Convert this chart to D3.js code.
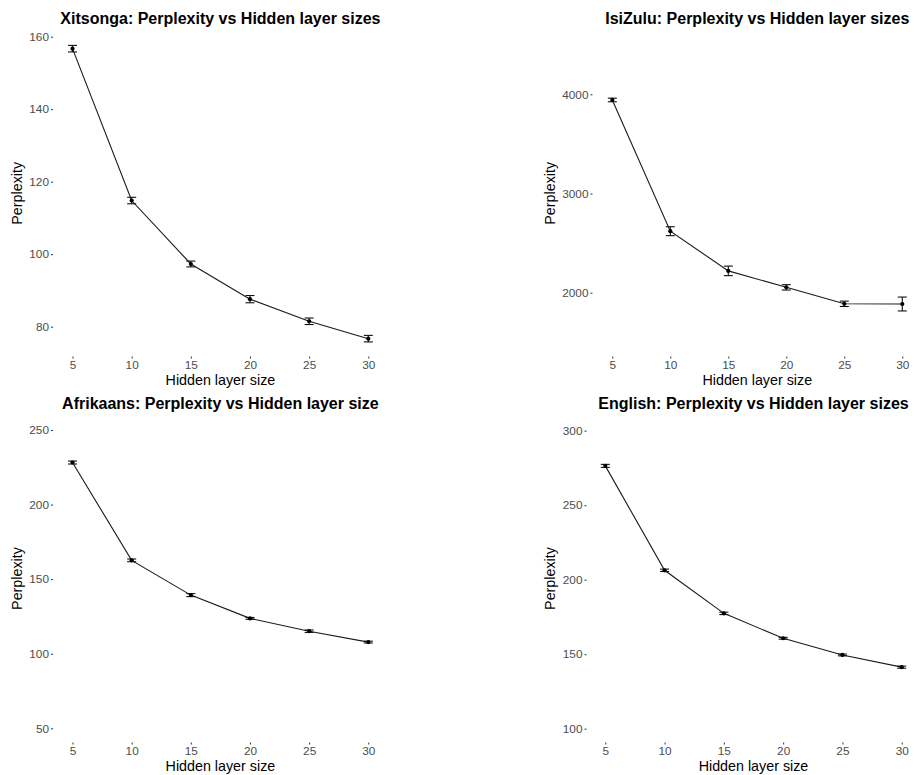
<!DOCTYPE html>
<html>
<head>
<meta charset="utf-8">
<script src="https://cdn.jsdelivr.net/npm/d3@7"></script>
<style>
  html, body { margin: 0; padding: 0; background: #ffffff; }
  svg { display: block; font-family: "Liberation Sans", Arial, Helvetica, sans-serif; }
</style>
</head>
<body>
<svg id="chart" width="914" height="775"></svg>
<script>
// ---------------- Data ----------------
const hiddenSizes = [5, 10, 15, 20, 25, 30];

const xitsongaPerplexity = [156.7, 114.8, 97.3, 87.6, 81.5, 76.7];
const xitsongaError      = [0.9, 0.9, 0.8, 1.0, 0.9, 0.9];

const isizuluPerplexity  = [3943, 2620, 2220, 2054, 1888, 1886];
const isizuluError       = [18, 45, 48, 27, 27, 70];

const afrikaansPerplexity = [228.2, 162.6, 139.3, 123.7, 115.1, 107.8];
const afrikaansError      = [1.0, 0.9, 1.0, 0.6, 0.8, 0.6];

const englishPerplexity = [276.4, 206.3, 177.4, 160.7, 149.5, 141.3];
const englishError      = [1.0, 0.8, 0.8, 0.6, 0.6, 0.7];

const xTickLabels = [5, 10, 15, 20, 25, 30];
const xitsongaYTicks  = [80, 100, 120, 140, 160];
const isizuluYTicks   = [2000, 3000, 4000];
const afrikaansYTicks = [50, 100, 150, 200, 250];
const englishYTicks   = [100, 150, 200, 250, 300];

const panelTitles = [
  "Xitsonga: Perplexity vs Hidden layer sizes",
  "IsiZulu: Perplexity vs Hidden layer sizes",
  "Afrikaans: Perplexity vs Hidden layer size",
  "English: Perplexity vs Hidden layer sizes"
];
const xAxisTitle = "Hidden layer size";
const yAxisTitle = "Perplexity";

// ---------------- Layout ----------------
const panels = [
  { title: panelTitles[0], values: xitsongaPerplexity, errors: xitsongaError, yTicks: xitsongaYTicks,
    xRange: [72.5, 368.3], yRange: [326.7, 36.7], yAxisX: 53, xAxisY: 356.5,
    titleY: 23.5, xTitleY: 385, yTitleX: 17.8, yTitleY: 193.3 },
  { title: panelTitles[1], values: isizuluPerplexity, errors: isizuluError, yTicks: isizuluYTicks,
    xRange: [612.3, 902.3], yRange: [292.7, 94.3], yAxisX: 592.5, xAxisY: 356.5,
    titleY: 23.5, xTitleY: 385, yTitleX: 550.8, yTitleY: 193.3 },
  { title: panelTitles[2], values: afrikaansPerplexity, errors: afrikaansError, yTicks: afrikaansYTicks,
    xRange: [72.5, 368.3], yRange: [728.3, 430], yAxisX: 53, xAxisY: 742.5,
    titleY: 409.3, xTitleY: 771.2, yTitleX: 17.8, yTitleY: 578.5 },
  { title: panelTitles[3], values: englishPerplexity, errors: englishError, yTicks: englishYTicks,
    xRange: [605.3, 901.7], yRange: [728.7, 430.7], yAxisX: 586.5, xAxisY: 742.5,
    titleY: 409.3, xTitleY: 771.2, yTitleX: 550.8, yTitleY: 578.5 }
];

const svg = d3.select("#chart");
const capHalf = 4.5;
const tickFont = "11.8px";

panels.forEach(p => {
  const yt = p.yTicks;
  const x = d3.scaleLinear().domain([hiddenSizes[0], hiddenSizes[hiddenSizes.length - 1]]).range(p.xRange);
  const y = d3.scaleLinear().domain([yt[0], yt[yt.length - 1]]).range(p.yRange);
  const g = svg.append("g");
  const data = hiddenSizes.map((h, i) => ({ h, v: p.values[i], e: p.errors[i] }));

  // x axis
  const xa = g.append("g").attr("transform", `translate(0,${p.xAxisY})`)
    .call(d3.axisBottom(x).tickValues(xTickLabels).tickSize(2).tickPadding(2.4).tickFormat(d3.format("d")));
  xa.select(".domain").remove();
  xa.selectAll("line").attr("stroke", "#333333");
  xa.selectAll("text").attr("fill", "#4d4d4d").style("font-size", tickFont).style("font-family", "Liberation Sans, Arial, sans-serif");

  // y axis
  const ya = g.append("g").attr("transform", `translate(${p.yAxisX},0)`)
    .call(d3.axisLeft(y).tickValues(yt).tickSize(2).tickPadding(2).tickFormat(d3.format("d")));
  ya.select(".domain").remove();
  ya.selectAll("line").attr("stroke", "#333333");
  ya.selectAll("text").attr("fill", "#4d4d4d").style("font-size", tickFont).style("font-family", "Liberation Sans, Arial, sans-serif");

  // line
  g.append("path").datum(data)
    .attr("fill", "none").attr("stroke", "#1a1a1a").attr("stroke-width", 1.1)
    .attr("d", d3.line().x(d => x(d.h)).y(d => y(d.v)));

  // error bars
  const eb = g.append("g").attr("stroke", "#111").attr("stroke-width", 1.1);
  data.forEach(d => {
    const cx = x(d.h), y0 = y(d.v - d.e), y1 = y(d.v + d.e);
    eb.append("line").attr("x1", cx).attr("x2", cx).attr("y1", y0).attr("y2", y1);
    eb.append("line").attr("x1", cx - capHalf).attr("x2", cx + capHalf).attr("y1", y0).attr("y2", y0);
    eb.append("line").attr("x1", cx - capHalf).attr("x2", cx + capHalf).attr("y1", y1).attr("y2", y1);
  });

  // points
  g.selectAll("circle.pt").data(data).join("circle")
    .attr("class", "pt").attr("cx", d => x(d.h)).attr("cy", d => y(d.v)).attr("r", 2.1).attr("fill", "#000");

  const cxMid = (p.xRange[0] + p.xRange[1]) / 2;
  // title
  g.append("text").attr("x", cxMid).attr("y", p.titleY).attr("text-anchor", "middle")
    .style("font-size", "16px").style("font-weight", "bold").attr("fill", "#000").text(p.title);
  // x title
  g.append("text").attr("x", cxMid).attr("y", p.xTitleY).attr("text-anchor", "middle")
    .style("font-size", "14.3px").attr("fill", "#000").text(xAxisTitle);
  // y title
  g.append("text").attr("transform", `translate(${p.yTitleX},${p.yTitleY}) rotate(-90)`)
    .attr("text-anchor", "middle").attr("dy", "0.32em")
    .style("font-size", "14.3px").attr("fill", "#000").text(yAxisTitle);
});
</script>
</body>
</html>
